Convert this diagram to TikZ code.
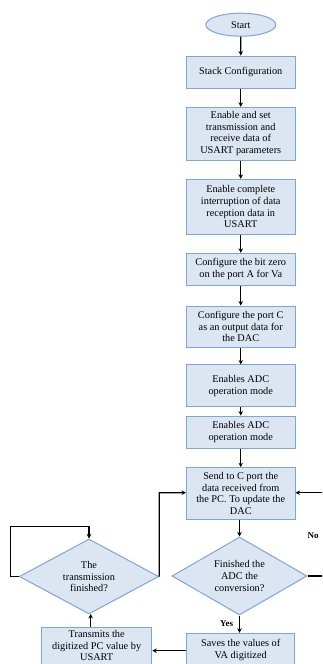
\documentclass[tikz,border=0pt]{standalone}
\usepackage{fontspec}
\setmainfont{Liberation Serif}
\usetikzlibrary{shapes.geometric,arrows.meta}
\definecolor{boxfill}{RGB}{220,230,242}
\definecolor{boxline}{RGB}{125,165,215}
\begin{document}
\begin{tikzpicture}[x=1pt,y=-1pt,
  every node/.style={font=\fontsize{10.3}{11.6}\selectfont, align=center, inner sep=0pt},
  pbox/.style={draw=boxline, fill=boxfill, line width=1pt, minimum width=108.5pt},
  dec/.style={diamond, draw=boxline, fill=boxfill, line width=1pt},
  term/.style={ellipse, draw=boxline, fill=boxfill, line width=1pt, minimum width=70pt, minimum height=23pt},
  arr/.style={line width=1.3pt, -{Stealth[length=4.5pt,width=4.5pt]}},
  ln/.style={line width=1.3pt},
  lbl/.style={font=\fontsize{9}{10}\selectfont\bfseries}]
\useasboundingbox (0,0) rectangle (322,664);
\clip (0,0) rectangle (322,664);

\node[term] (start) at (240.8,24.7) {Start};
\node[pbox, minimum height=32.3pt] (b2) at (240.75,72.2) {Stack Configuration};
\node[pbox, minimum height=52.7pt] (b3) at (240.75,133.7) {Enable and set\\transmission and\\receive data of\\USART parameters};
\node[pbox, minimum height=54.7pt] (b4) at (240.75,206.7) {Enable complete\\interruption of data\\reception data in\\USART};
\node[pbox, minimum height=31.7pt] (b5) at (240.75,269.2) {Configure the bit zero\\on the port A for Va};
\node[pbox, minimum height=41.3pt] (b6) at (240.75,326.7) {Configure the port C\\as an output data for\\the DAC};
\node[pbox, minimum height=41.7pt] (b7) at (240.75,385.8) {Enables ADC\\operation mode};
\node[pbox, minimum height=32.3pt] (b8) at (240.75,432.2) {Enables ADC\\operation mode};
\node[pbox, minimum height=51.6pt] (b9) at (240.75,493.5) {Send to C port the\\data received from\\the PC. To update the\\DAC};

\node[dec, minimum width=135pt, minimum height=78pt] (d1) at (239.5,576) {};
\node at (239.5,576) {Finished the\\ADC the\\conversion?};
\node[dec, minimum width=139.4pt, minimum height=75pt] (d2) at (89,576.5) {};
\node at (89,576.5) {The\\transmission\\finished?};

\node[pbox, minimum width=108pt, minimum height=33pt] (sv) at (240.7,649.8) {Saves the values of\\VA digitized};
\node[pbox, minimum width=110pt, minimum height=41pt] (tr) at (96.7,648.2) {};
\node at (96.7,645.8) {Transmits the\\digitized PC value by\\USART};

\draw[arr] (start) -- (b2);
\draw[arr] (b2) -- (b3);
\draw[arr] (b3) -- (b4);
\draw[arr] (b4) -- (b5);
\draw[arr] (b5) -- (b6);
\draw[arr] (b6) -- (b7);
\draw[arr] (b7) -- (b8);
\draw[arr] (b8) -- (b9);
\draw[arr] (b9.south -| d1.north) -- (d1.north);
\draw[arr] (d1.south) -- (d1.south |- sv.north);
\node[lbl] (yes) at (226.5,624) {Yes};
\node[lbl] (no) at (313,536) {No};

\coordinate (re1) at (324,576);
\coordinate (re2) at (324,492.7);
\draw[ln] (d1.east) -- (re1);
\draw[arr] (re2) -- (b9.east |- re2);

\draw[arr] (sv.west |- 0,650.7) -- (tr.east |- 0,650.7);
\draw[arr] (tr.north -| 90.7,0) -- (90.7,614);

\draw[arr] (d2.west) -- (10.7,576.5) -- (10.7,526.7) -- (89,526.7) -- (d2.north);
\draw[arr] (d2.east) -- (159.3,492.7) -- (b9.west |- 0,492.7);
\end{tikzpicture}
\end{document}
